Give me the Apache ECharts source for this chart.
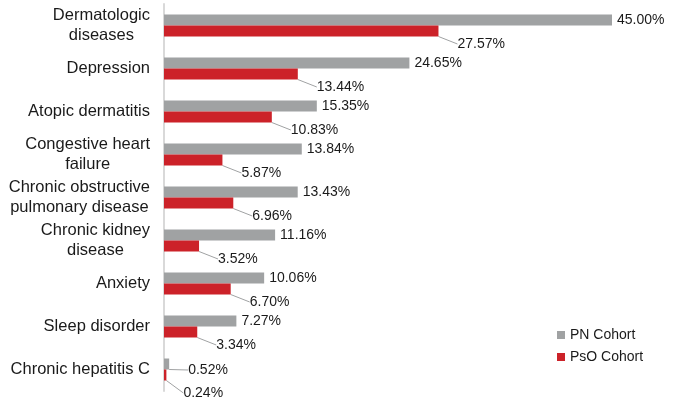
<!DOCTYPE html>
<html>
<head>
<meta charset="utf-8">
<title>Comorbidities</title>
<script src="https://cdn.jsdelivr.net/npm/echarts@6/dist/echarts.min.js"></script>
<style>
  html, body { margin: 0; padding: 0; background: #fff; }
  #main { width: 674px; height: 407px; }
</style>
</head>
<body>
<div id="main"></div>
<script type="text/javascript">
// categories, top to bottom
var categories = [
    'Dermatologic\ndiseases',
    'Depression',
    'Atopic dermatitis',
    'Congestive heart\nfailure',
    'Chronic obstructive\npulmonary disease',
    'Chronic kidney\ndisease',
    'Anxiety',
    'Sleep disorder',
    'Chronic hepatitis C'
];
var pnCohort  = [45.00, 24.65, 15.35, 13.84, 13.43, 11.16, 10.06, 7.27, 0.52];
var psoCohort = [27.57, 13.44, 10.83, 5.87, 6.96, 3.52, 6.70, 3.34, 0.24];

var myChart = echarts.init(document.getElementById('main'));

var labelFont = { fontFamily: 'Liberation Sans, Arial, sans-serif', fontSize: 14, color: '#1a1a1a' };
var leader = { color: '#a0a2a3', width: 1 };

function pct(p) { return p.value.toFixed(2) + '%'; }

// only the last gray label gets a leader line
var pnData = pnCohort.map(function (v, i) {
    return i === 8 ? { value: v, labelLine: { show: true, lineStyle: leader } } : v;
});

var option = {
    animation: false,
    textStyle: { fontFamily: 'Liberation Sans, Arial, sans-serif' },
    legend: {
        orient: 'vertical',
        left: 552,
        top: 323,
        itemWidth: 8,
        itemHeight: 8,
        itemGap: 8,
        icon: 'rect',
        textStyle: { fontSize: 14, color: '#1a1a1a' },
        data: ['PN Cohort', 'PsO Cohort']
    },
    grid: { left: 164, right: 62, top: 4, bottom: 16, containLabel: false },
    xAxis: {
        type: 'value',
        min: 0,
        max: 45,
        show: false
    },
    yAxis: {
        type: 'category',
        inverse: true,
        data: categories,
        axisLine: { show: true, lineStyle: { color: '#d9d9d9', width: 2 } },
        axisTick: { show: false },
        axisLabel: {
            margin: 14,
            formatter: function (v) {
                return v.split('\n').map(function (s) { return '{a|' + s + '}'; }).join('\n');
            },
            rich: {
                a: { align: 'center', fontSize: 16.5, color: '#1a1a1a', lineHeight: 20 }
            }
        }
    },
    series: [
        {
            name: 'PN Cohort',
            type: 'bar',
            data: pnData,
            barWidth: 11,
            barGap: '0%',
            itemStyle: { color: '#a0a2a3' },
            label: Object.assign({ show: true, position: 'right', distance: 5, formatter: pct }, labelFont),
            labelLine: { show: false, lineStyle: leader },
            labelLayout: function (params) {
                if (params.dataIndex === 8) return { dx: 14, dy: 6 };
                return {};
            }
        },
        {
            name: 'PsO Cohort',
            type: 'bar',
            data: psoCohort,
            barWidth: 11,
            itemStyle: { color: '#cc2229' },
            label: Object.assign({ show: true, position: 'right', distance: 5, formatter: pct }, labelFont),
            labelLine: { show: true, lineStyle: leader },
            labelLayout: function (params) {
                if (params.dataIndex === 8) return { dx: 12, dy: 18 };
                return { dx: 14, dy: 13 };
            }
        }
    ]
};

myChart.setOption(option);
</script>
</body>
</html>
